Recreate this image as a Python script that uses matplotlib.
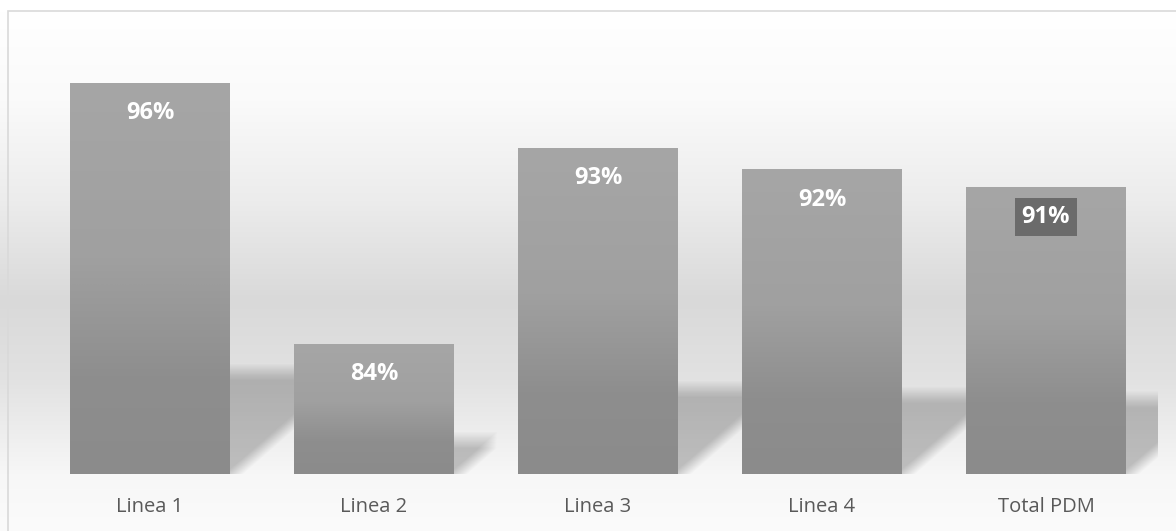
import matplotlib.pyplot as plt
import numpy as np
from matplotlib.colors import LinearSegmentedColormap
from matplotlib.patches import Polygon, Rectangle

# datos
categorias = ["Linea 1", "Linea 2", "Linea 3", "Linea 4", "Total PDM"]
valores = [0.96, 0.84, 0.93, 0.92, 0.912]

plt.rcParams["font.family"] = ["Open Sans", "DejaVu Sans"]

W, H = 1176, 531
fig = plt.figure(figsize=(W / 100, H / 100), dpi=100)

# fondo con degradado (area del grafico)
bg = fig.add_axes([0, 0, 1, 1], zorder=-10)
filas = np.arange(H)
gris = np.interp(filas, [0, 11, 100, 200, 300, 380, 474, 531],
                 [255, 255, 250, 236, 217, 226, 247, 251]) / 255.0
img = np.repeat(gris[:, None], 4, axis=1)
bg.imshow(np.dstack([img, img, img]), aspect="auto", extent=[0, 1, 0, 1])
bg.axis("off")
bg.add_patch(Rectangle((8 / W, -0.1), 1.2, 1 - 11 / H + 0.1, transform=bg.transAxes,
                       fill=False, ec="#d9d9d9", lw=1.2))

# area de trazado
ymin, ymax = 0.78, 0.98
ax = fig.add_axes([38 / W, (H - 474) / H, 1120 / W, (474 - 39) / H])
ax.patch.set_alpha(0)

x = np.arange(len(categorias))
ancho = 0.714
barras = ax.bar(x, [v - ymin for v in valores], bottom=ymin, width=ancho,
                color="none", edgecolor="none", zorder=3)

cmap = LinearSegmentedColormap.from_list(
    "barra", [(0, "#a6a6a6"), (0.45, "#a0a0a0"), (0.75, "#8e8e8e"), (1, "#8b8b8b")])
grad = np.linspace(0, 1, 256).reshape(-1, 1)

for b, v in zip(barras, valores):
    x0 = b.get_x()
    x1 = x0 + b.get_width()
    im = ax.imshow(grad, cmap=cmap, extent=[x0, x1, ymin, v], aspect="auto",
                   origin="upper", zorder=3, interpolation="bilinear")
    im.set_clip_path(b)

    # sombra en perspectiva (varias capas para difuminar)
    h = v - ymin
    alto = 0.26 * h
    pend = 11.16  # unidades x por unidad y
    n = 14
    for j in range(n):
        f = j / (n - 1) - 0.5
        top = alto - f * 0.0075
        s = 4 / 224 + f * 0.08
        pts = [(x0, ymin), (x1 + s, ymin), (x1 + s + pend * top, ymin + top),
               (x0 + pend * top, ymin + top)]
        ax.add_patch(Polygon(pts, closed=True, fc="black", ec="none",
                             alpha=0.014, zorder=1))

# etiquetas de datos
for i, v in enumerate(valores):
    kw = {}
    if categorias[i] == "Total PDM":
        kw["bbox"] = dict(boxstyle="square,pad=0.3", fc="#6b6b6b", ec="none")
    ax.annotate(f"{v:.0%}", (x[i], v), xytext=(0, -21.8), textcoords="offset points",
                ha="center", va="center", color="white", fontweight="bold",
                fontsize=17, zorder=5, **kw)

ax.set_xlim(-0.5, len(categorias) - 0.5)
ax.set_ylim(ymin, ymax)
ax.set_yticks([])
ax.set_xticks(x)
ax.set_xticklabels(categorias, fontsize=14.5, color="#595959")
ax.tick_params(axis="x", length=0, pad=16.5)
for sp in ax.spines.values():
    sp.set_visible(False)

fig.savefig("out.png", dpi=100)
